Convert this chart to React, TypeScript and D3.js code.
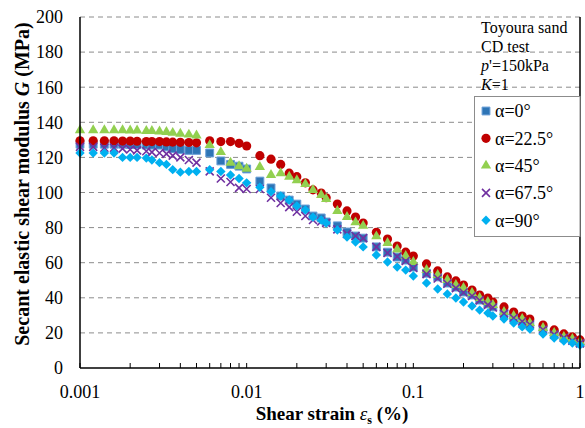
import React from "react";
import * as d3 from "d3";

const strain = [
  0.001, 0.0012, 0.0014, 0.0016, 0.0018, 0.002, 0.0022, 0.0025, 0.0027, 0.003, 0.0033, 0.0036, 0.004, 0.0045, 0.005,
  0.006, 0.007, 0.008, 0.009, 0.01, 0.012, 0.014, 0.016, 0.018, 0.02, 0.0225, 0.025, 0.028, 0.03, 0.035, 0.04, 0.045, 0.05,
  0.06, 0.07, 0.08, 0.09, 0.1, 0.12, 0.14, 0.16, 0.18, 0.2, 0.225, 0.25, 0.28, 0.3, 0.35, 0.4, 0.45, 0.5,
  0.6, 0.7, 0.8, 0.9, 1.0,
];

const g0 = [
  127.5, 127.5, 127.5, 127.5, 127.5, 127.3, 127.3, 127, 127, 127, 126, 125, 124.5, 124, 124,
  122.5, 118, 116, 115, 113.4, 106.5, 102.6, 98, 95.7, 93.4, 90.6, 86.6, 85.5, 83.2, 81, 77.5, 75.2, 74,
  69, 66, 63.2, 61.5, 57.5, 54, 51.9, 48.4, 46.1, 43.3, 41.6, 38.7, 36.5, 34.8, 31.3, 29, 26.8, 25,
  22.2, 19.4, 17.7, 16, 14.2,
];
const g22 = [
  129.5, 129.5, 129.5, 129.5, 129.3, 129.3, 129.2, 129, 129, 129, 128.8, 128.7, 128.6, 128.5, 128.3,
  129.5, 129, 129, 128, 126.5, 121, 119, 116, 111, 109, 105.5, 101.5, 99.7, 97, 93.4, 89.5, 86, 82.6,
  77.3, 73.5, 69.5, 66, 63.8, 59.3, 55.3, 51.9, 49.6, 47.3, 44.4, 41.6, 39.9, 37.6, 34.8, 31.9, 29.6, 27.9,
  24.5, 21.7, 19.4, 17.7, 16,
];
const g45 = [
  135.5, 135.5, 135.5, 135.5, 135.5, 135.3, 135.3, 135, 135, 134.8, 134.5, 134, 133.5, 133, 132.5,
  127, 123, 117, 115, 113.5, 114.5, 110, 111, 109, 107, 104.8, 101.4, 98.6, 96.3, 89.5, 86, 83, 81,
  75, 71.2, 67.5, 63.8, 60.4, 55.8, 53, 50.1, 47.3, 45.6, 42.7, 39.9, 37.6, 35.9, 31.9, 29.6, 27.9, 25.6,
  22.8, 19.9, 17.7, 16.5, 14.8,
];
const g67 = [
  126, 126, 125.5, 125.5, 125, 124.5, 124, 123.5, 123, 122.5, 122, 121, 120, 118.5, 117,
  112, 108, 106, 102.6, 102, 102, 97, 94, 91.7, 89, 86.6, 84.3, 83.5, 82.6, 79, 76.4, 75.2, 74,
  69, 65.5, 63.5, 61, 57, 53.5, 51, 48, 45.5, 43, 41, 38.5, 36, 34.5, 31, 28.5, 26.5, 24.8,
  21.8, 19, 17.2, 15.5, 14,
];
const g90 = [
  122.5, 122.5, 122.5, 122.5, 120, 120, 120, 119.6, 118.5, 117, 116, 113, 111.6, 112, 112,
  113, 112, 110, 108, 105.5, 103, 100.4, 98, 95.7, 92.3, 90, 86, 84.3, 82.6, 78.6, 74.6, 71.8, 69,
  64.4, 60.4, 57.5, 55.8, 52.4, 48.4, 45, 42.2, 39.9, 37.6, 35.3, 33, 31.3, 29.6, 27.9, 25.6, 23.4, 22.2,
  19.4, 17.1, 15.4, 14.2, 13,
];

const seriesNames = ["α=0°", "α=22.5°", "α=45°", "α=67.5°", "α=90°"];
const seriesValues = [g0, g22, g45, g67, g90];
const seriesColors = ["#2E75B6", "#C00000", "#92D050", "#7030A0", "#00B0F0"];
const seriesShapes = ["square", "circle", "triangle", "x", "diamond"];

const yTicks = [0, 20, 40, 60, 80, 100, 120, 140, 160, 180, 200];
const xTickLabels = [0.001, 0.01, 0.1, 1];
const infoLines = ["Toyoura sand", "CD test", "p'=150kPa", "K=1"];

const W = 585;
const H = 428;
const M = { left: 80, right: 5, top: 17, bottom: 60 };
const FONT = "Liberation Serif, Times New Roman, serif";

function markerPath(shape: string): string {
  switch (shape) {
    case "square":
      return d3.symbol(d3.symbolSquare, 62)() as string;
    case "circle":
      return d3.symbol(d3.symbolCircle, 66)() as string;
    case "triangle":
      return d3.symbol(d3.symbolTriangle, 46)() as string;
    case "diamond":
      return d3.symbol(d3.symbolSquare, 44)() as string;
    default:
      return "M-4,-4L4,4M-4,4L4,-4";
  }
}

function Marker({ shape, color, x, y }: { shape: string; color: string; x: number; y: number }) {
  const d = markerPath(shape);
  if (shape === "x") {
    return <path d={d} transform={`translate(${x},${y})`} stroke={color} strokeWidth={1.6} fill="none" />;
  }
  if (shape === "diamond") {
    return <path d={d} transform={`translate(${x},${y}) rotate(45)`} fill={color} />;
  }
  if (shape === "square") {
    return <path d={d} transform={`translate(${x},${y})`} fill={color} stroke="#6A9FD8" strokeWidth={1} />;
  }
  return <path d={d} transform={`translate(${x},${y})`} fill={color} />;
}

const txt = { fontFamily: FONT };

export default function App() {
  const x = d3.scaleLog().domain([0.001, 1]).range([M.left, W - M.right]);
  const y = d3.scaleLinear().domain([0, 200]).range([H - M.bottom, M.top]);
  const minorTicks = x.ticks();
  const x0 = M.left;
  const x1 = W - M.right;
  const yb = H - M.bottom;

  return (
    <svg width={W} height={H} style={{ position: "absolute", left: 0, top: 0, background: "#fff", fontFamily: FONT }}>
      <rect x={0} y={0} width={W} height={H} fill="#fff" />
      {yTicks.filter((t) => t > 0).map((t) => (
        <line key={t} x1={x0} x2={x1} y1={y(t)} y2={y(t)} stroke="#8C8C8C" strokeWidth={1} strokeDasharray="5,4" />
      ))}
      {yTicks.map((t) => (
        <text key={t} style={txt} x={63} y={y(t)} dy="0.35em" textAnchor="end" fontSize={18} fill="#000">
          {t}
        </text>
      ))}
      {xTickLabels.map((t) => (
        <text key={t} style={txt} x={x(t)} y={398} textAnchor="middle" fontSize={18} fill="#000">
          {String(t)}
        </text>
      ))}
      {seriesValues.map((vals, si) => (
        <g key={si}>
          {vals.map((v, i) => (
            <Marker key={i} shape={seriesShapes[si]} color={seriesColors[si]} x={x(strain[i])} y={y(v)} />
          ))}
        </g>
      ))}
      <line x1={x0} x2={x0} y1={M.top} y2={yb} stroke="#000" strokeWidth={1.5} />
      <line x1={x0} x2={x1} y1={yb} y2={yb} stroke="#000" strokeWidth={1.5} />
      <line x1={x1} x2={x1} y1={M.top} y2={yb} stroke="#000" strokeWidth={1.5} />
      {minorTicks.map((t, i) => (
        <line key={i} x1={x(t)} x2={x(t)} y1={yb} y2={yb - 5} stroke="#000" strokeWidth={1} />
      ))}
      <g fontSize={16} fill="#000" style={txt}>
        <text style={txt} x={481} y={33}>{infoLines[0]}</text>
        <text style={txt} x={481} y={52}>{infoLines[1]}</text>
        <text style={txt} x={481} y={71}>
          <tspan fontStyle="italic">p</tspan>
          {infoLines[2].slice(1)}
        </text>
        <text style={txt} x={481} y={90}>
          <tspan fontStyle="italic">K</tspan>
          {infoLines[3].slice(1)}
        </text>
      </g>
      <rect x={474.5} y={96.5} width={x1 - 474.5} height={140} fill="#fff" stroke="#8C8C8C" strokeWidth={1} />
      {seriesNames.map((n, i) => (
        <g key={n}>
          <Marker shape={seriesShapes[i]} color={seriesColors[i]} x={486} y={111 + i * 27.3} />
          <text style={txt} x={495} y={111 + i * 27.3} dy="0.35em" fontSize={18} fill="#000">
            {n}
          </text>
        </g>
      ))}
      <text style={txt} x={332} y={420} textAnchor="middle" fontSize={19} fontWeight="bold" fill="#000">
        Shear strain <tspan fontStyle="italic" fontWeight="normal">ε</tspan>
        <tspan fontSize={12} dy={4}>s</tspan>
        <tspan dy={-4}> (%)</tspan>
      </text>
      <text
        style={txt}
        transform={`translate(29,184) rotate(-90)`}
        textAnchor="middle"
        fontSize={20}
        fontWeight="bold"
        fill="#000"
      >
        Secant elastic shear modulus <tspan fontStyle="italic">G</tspan> (MPa)
      </text>
    </svg>
  );
}
